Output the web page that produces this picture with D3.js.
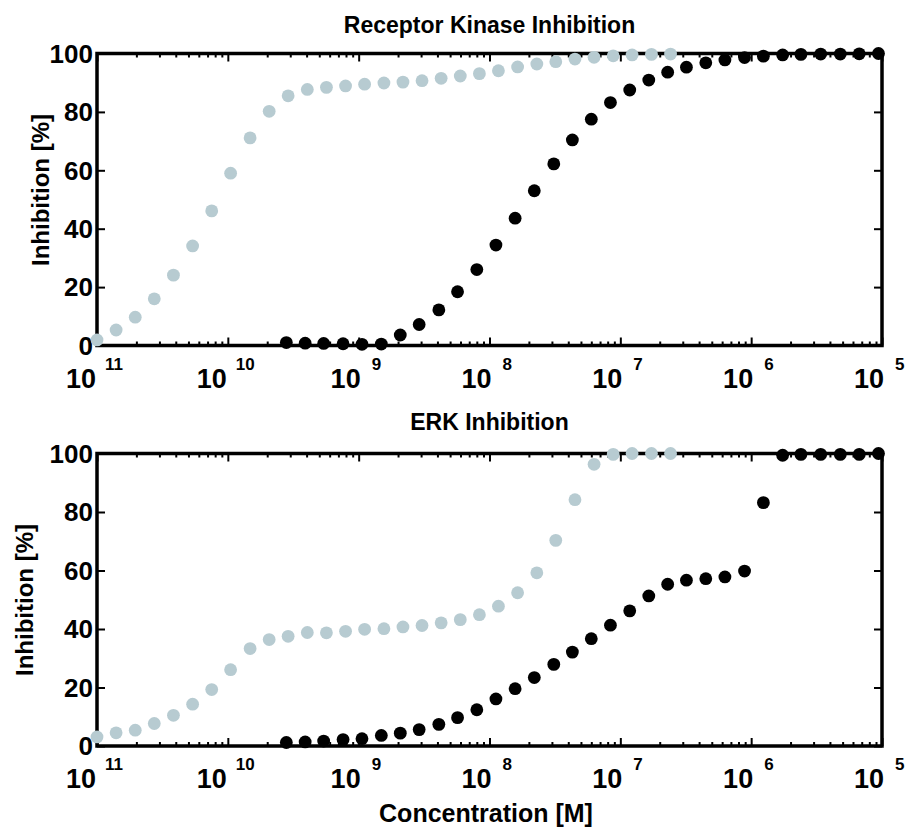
<!DOCTYPE html>
<html>
<head>
<meta charset="utf-8">
<script src="https://cdn.jsdelivr.net/npm/d3@7"></script>
<style>
  html, body { margin: 0; padding: 0; background: #fff; }
  text { font-family: "Liberation Sans", Arial, sans-serif; font-weight: bold; fill: #000; }
</style>
</head>
<body>
<svg id="chart" width="910" height="832"></svg>
<script>
// ---------- data ----------
const panelTitles = ["Receptor Kinase Inhibition", "ERK Inhibition"];
const xLabel = "Concentration [M]";
const yLabel = "Inhibition [%]";

const xTickValues = [1e-11, 1e-10, 1e-9, 1e-8, 1e-7, 1e-6, 1e-5];
const xTickExponents = ["11", "10", "9", "8", "7", "6", "5"];
const yTickValues = [0, 20, 40, 60, 80, 100];

// concentrations (M) of the grey series
const grayConc = [1.0e-11, 1.4e-11, 1.96e-11, 2.74e-11, 3.84e-11, 5.38e-11, 7.53e-11, 1.05e-10,
  1.48e-10, 2.07e-10, 2.89e-10, 4.05e-10, 5.67e-10, 7.94e-10, 1.11e-9, 1.56e-9, 2.18e-9,
  3.05e-9, 4.27e-9, 5.98e-9, 8.37e-9, 1.17e-8, 1.64e-8, 2.30e-8, 3.21e-8, 4.50e-8, 6.30e-8,
  8.82e-8, 1.23e-7, 1.73e-7, 2.42e-7];
// concentrations (M) of the black series
const blackConc = [2.8e-10, 3.9e-10, 5.4e-10, 7.6e-10, 1.06e-9, 1.49e-9, 2.08e-9, 2.9e-9,
  4.1e-9, 5.7e-9, 8.0e-9, 1.12e-8, 1.57e-8, 2.2e-8, 3.1e-8, 4.3e-8, 6.0e-8, 8.4e-8, 1.18e-7,
  1.65e-7, 2.3e-7, 3.2e-7, 4.5e-7, 6.3e-7, 8.9e-7, 1.24e-6, 1.74e-6, 2.4e-6, 3.4e-6, 4.8e-6,
  6.7e-6, 9.4e-6];

// Receptor kinase inhibition (%)
const rkGray = [1.9, 5.3, 9.7, 16.0, 24.1, 34.1, 46.1, 59.0, 71.1, 80.2, 85.5, 87.7, 88.4, 88.9,
  89.5, 89.9, 90.2, 90.7, 91.5, 92.3, 93.1, 94.1, 95.4, 96.4, 97.2, 98.1, 98.7, 99.2, 99.5, 99.7, 99.8];
const rkBlack = [1.0, 0.8, 0.7, 0.6, 0.4, 0.5, 3.6, 7.2, 12.2, 18.4, 26.0, 34.4, 43.6, 53.0, 62.2,
  70.4, 77.5, 83.2, 87.5, 90.9, 93.6, 95.3, 96.8, 97.8, 98.6, 99.1, 99.5, 99.7, 99.8, 99.8, 99.9, 100];

// ERK inhibition (%)
const erkGray = [3.1, 4.5, 5.4, 7.7, 10.5, 14.3, 19.3, 26.1, 33.3, 36.4, 37.5, 38.8, 38.7, 39.2,
  39.9, 40.1, 40.7, 41.2, 42.1, 43.2, 44.9, 47.8, 52.4, 59.2, 70.3, 84.2, 96.3, 99.7, 100, 100, 100];
const erkBlack = [1.2, 1.4, 1.7, 2.2, 2.5, 3.6, 4.4, 5.6, 7.4, 9.7, 12.4, 16.1, 19.6, 23.4, 27.9,
  32.1, 36.7, 41.3, 46.2, 51.3, 55.3, 56.7, 57.2, 57.8, 59.8, 83.2, 99.4, 99.7, 99.7, 99.7, 99.7, 100];

const seriesGray = [rkGray, erkGray];
const seriesBlack = [rkBlack, erkBlack];

// ---------- layout ----------
const W = 910, H = 832;
const left = 97, right = 882;
const panels = [
  { top: 53.5, bottom: 345.5, titleY: 33, yLabelX: 49, yLabelY: 190 },
  { top: 453.5, bottom: 746, titleY: 430, yLabelX: 33, yLabelY: 600 }
];
const grayColor = "#b7cbd1";
const dotR = 6.4;

const svg = d3.select("#chart");
svg.append("rect").attr("width", W).attr("height", H).attr("fill", "#fff");

const x = d3.scaleLog().domain([1e-11, 1e-5]).range([left, right]);
const minorTicks = x.ticks().filter(v => !xTickValues.some(t => Math.abs(t - v) / t < 1e-6));

panels.forEach((p, i) => {
  const y = d3.scaleLinear().domain([0, 100]).range([p.bottom, p.top]);
  const g = svg.append("g");

  const styleAxis = sel => {
    sel.select(".domain").remove();
    sel.selectAll("line").attr("stroke", "#000").attr("stroke-width", 2);
    sel.selectAll("text").remove();
  };

  // bottom axis ticks (inward)
  g.append("g").attr("transform", `translate(0,${p.bottom})`)
    .call(d3.axisBottom(x).tickValues(xTickValues).tickSize(-8).tickFormat(""))
    .call(styleAxis);
  g.append("g").attr("transform", `translate(0,${p.bottom})`)
    .call(d3.axisBottom(x).tickValues(minorTicks).tickSize(-4).tickFormat(""))
    .call(styleAxis);
  // top axis ticks (inward)
  g.append("g").attr("transform", `translate(0,${p.top})`)
    .call(d3.axisTop(x).tickValues(xTickValues).tickSize(-8).tickFormat(""))
    .call(styleAxis);
  g.append("g").attr("transform", `translate(0,${p.top})`)
    .call(d3.axisTop(x).tickValues(minorTicks).tickSize(-4).tickFormat(""))
    .call(styleAxis);
  // left / right ticks (inward)
  g.append("g").attr("transform", `translate(${left},0)`)
    .call(d3.axisLeft(y).tickValues(yTickValues).tickSize(-8).tickFormat(""))
    .call(styleAxis);
  g.append("g").attr("transform", `translate(${right},0)`)
    .call(d3.axisRight(y).tickValues(yTickValues).tickSize(-8).tickFormat(""))
    .call(styleAxis);

  // frame
  g.append("rect")
    .attr("x", left).attr("y", p.top)
    .attr("width", right - left).attr("height", p.bottom - p.top)
    .attr("fill", "none").attr("stroke", "#000").attr("stroke-width", 3.5);

  // y tick labels
  g.selectAll(".ylab").data(yTickValues).enter().append("text")
    .attr("x", left - 4).attr("y", d => y(d))
    .attr("dy", "0.36em")
    .attr("text-anchor", "end")
    .attr("font-size", 26)
    .text(d => d);

  // x tick labels: "10" with superscript exponent
  xTickValues.forEach((v, k) => {
    const e = xTickExponents[k];
    const tx = x(v);
    const two = e.length > 1;
    g.append("text")
      .attr("x", two ? tx - 1 : tx + 2).attr("y", p.bottom + 42)
      .attr("text-anchor", "end").attr("font-size", 27).text("10");
    g.append("text")
      .attr("x", two ? tx + 8 : tx + 13).attr("y", p.bottom + 24)
      .attr("text-anchor", "start").attr("font-size", 17).text(e);
  });

  // title
  g.append("text")
    .attr("x", (left + right) / 2).attr("y", p.titleY)
    .attr("text-anchor", "middle").attr("font-size", 23)
    .text(panelTitles[i]);

  // y label
  g.append("text")
    .attr("transform", `translate(${p.yLabelX},${p.yLabelY}) rotate(-90)`)
    .attr("text-anchor", "middle").attr("font-size", 24)
    .text(yLabel);

  // dots
  g.selectAll(".gdot").data(grayConc.map((c, k) => [c, seriesGray[i][k]])).enter()
    .append("circle")
    .attr("cx", d => x(d[0])).attr("cy", d => y(d[1])).attr("r", dotR)
    .attr("fill", grayColor);
  g.selectAll(".bdot").data(blackConc.map((c, k) => [c, seriesBlack[i][k]])).enter()
    .append("circle")
    .attr("cx", d => x(d[0])).attr("cy", d => y(d[1])).attr("r", dotR)
    .attr("fill", "#000");
});

// x label
svg.append("text")
  .attr("x", 486).attr("y", 822)
  .attr("text-anchor", "middle").attr("font-size", 25)
  .text(xLabel);
</script>
</body>
</html>
